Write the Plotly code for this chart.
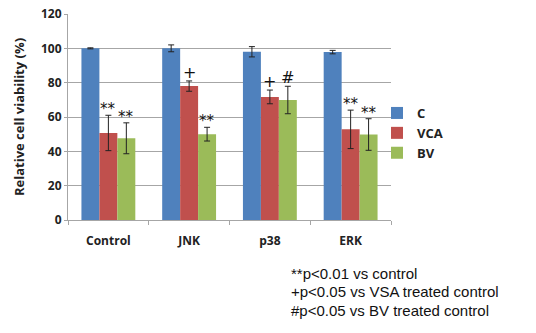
import plotly.graph_objects as go

categories = ["Control", "JNK", "p38", "ERK"]
series_names = ["C", "VCA", "BV"]
c_vals = [100, 100, 98, 97.8]
c_err = [0.3, 2, 3, 1]
vca_vals = [50.7, 78, 71.7, 52.8]
vca_err = [10.3, 3, 4, 11.2]
bv_vals = [47.6, 50, 69.9, 49.8]
bv_err = [9, 4, 8, 9.2]
colors = ["#4F81BD", "#C0504D", "#9BBB59"]
marks_vca = ["**", "+", "+", "**"]
marks_bv = ["**", "**", "#", "**"]
footnotes = ["**p<0.01 vs control", "+p<0.05 vs VSA treated control", "#p<0.05 vs BV treated control"]

L, R, T, B = 68, 145, 14, 113
W, H = 536, 333
pw = W - L - R
ph = H - T - B

def px_x(x):
    return (x - L) / pw

def px_y(y):
    return (H - B - y) / ph

fig = go.Figure()
for name, vals, errs, col in [
    (series_names[0], c_vals, c_err, colors[0]),
    (series_names[1], vca_vals, vca_err, colors[1]),
    (series_names[2], bv_vals, bv_err, colors[2]),
]:
    fig.add_trace(go.Bar(
        name=name, x=categories, y=vals, marker=dict(color=col, line=dict(width=0)),
        error_y=dict(type="data", array=errs, visible=True, color="#222", thickness=1, width=3),
        hoverinfo="x+y+name",
    ))

bar_w = (1 - 0.333) / 3
for si, (vals, errs, marks) in enumerate([(vca_vals, vca_err, marks_vca), (bv_vals, bv_err, marks_bv)]):
    for ci, cat in enumerate(categories):
        m = marks[ci]
        fig.add_annotation(
            x=ci + si * bar_w, xref="x", y=vals[ci] + errs[ci], yref="y",
            text=m, showarrow=False, yanchor="bottom", yshift=-5 if m == "**" else -3,
            font=dict(family="DejaVu Sans", size=15 if m == "**" else 16, color="#111"),
        )

for i, t in enumerate(footnotes):
    fig.add_annotation(
        x=px_x(291), y=px_y(273 + i * 18.5), xref="paper", yref="paper", text=t, showarrow=False,
        xanchor="left", yanchor="middle", xshift=-2,
        font=dict(family="Liberation Sans, Arial", size=15, color="#111"),
    )

fig.update_layout(
    width=W, height=H,
    margin=dict(l=L, r=R, t=T, b=B, autoexpand=False),
    paper_bgcolor="white", plot_bgcolor="white",
    barmode="group", bargap=0.333, bargroupgap=0,
    font=dict(family="Open Sans", size=12, color="#222"),
    showlegend=True,
    legend=dict(x=px_x(377), y=px_y(133), yanchor="middle", xanchor="left",
                font=dict(family="Open Sans", size=13, color="#222", weight="bold"),
                itemwidth=30, tracegroupgap=0, traceorder="normal", bgcolor="rgba(0,0,0,0)"),
    yaxis=dict(range=[0, 120], dtick=20, showgrid=True, gridcolor="#a6a6a6", gridwidth=1,
               showline=True, linecolor="#a6a6a6", ticks="outside", ticklen=3, tickcolor="#a6a6a6",
               tickfont=dict(size=12, weight="bold"), zeroline=False, automargin=False,
               title=dict(text="Relative cell viability (%)", font=dict(size=13, weight="bold"), standoff=13)),
    xaxis=dict(showline=True, linecolor="#a6a6a6", ticks="outside", tickson="boundaries", ticklen=4,
               tickcolor="#a6a6a6", tickfont=dict(size=12, weight="bold"), automargin=False,
               ticklabelstandoff=10),
)

fig.write_html("out.html", config={"displayModeBar": False},
               post_script="document.body.style.margin='0';")
